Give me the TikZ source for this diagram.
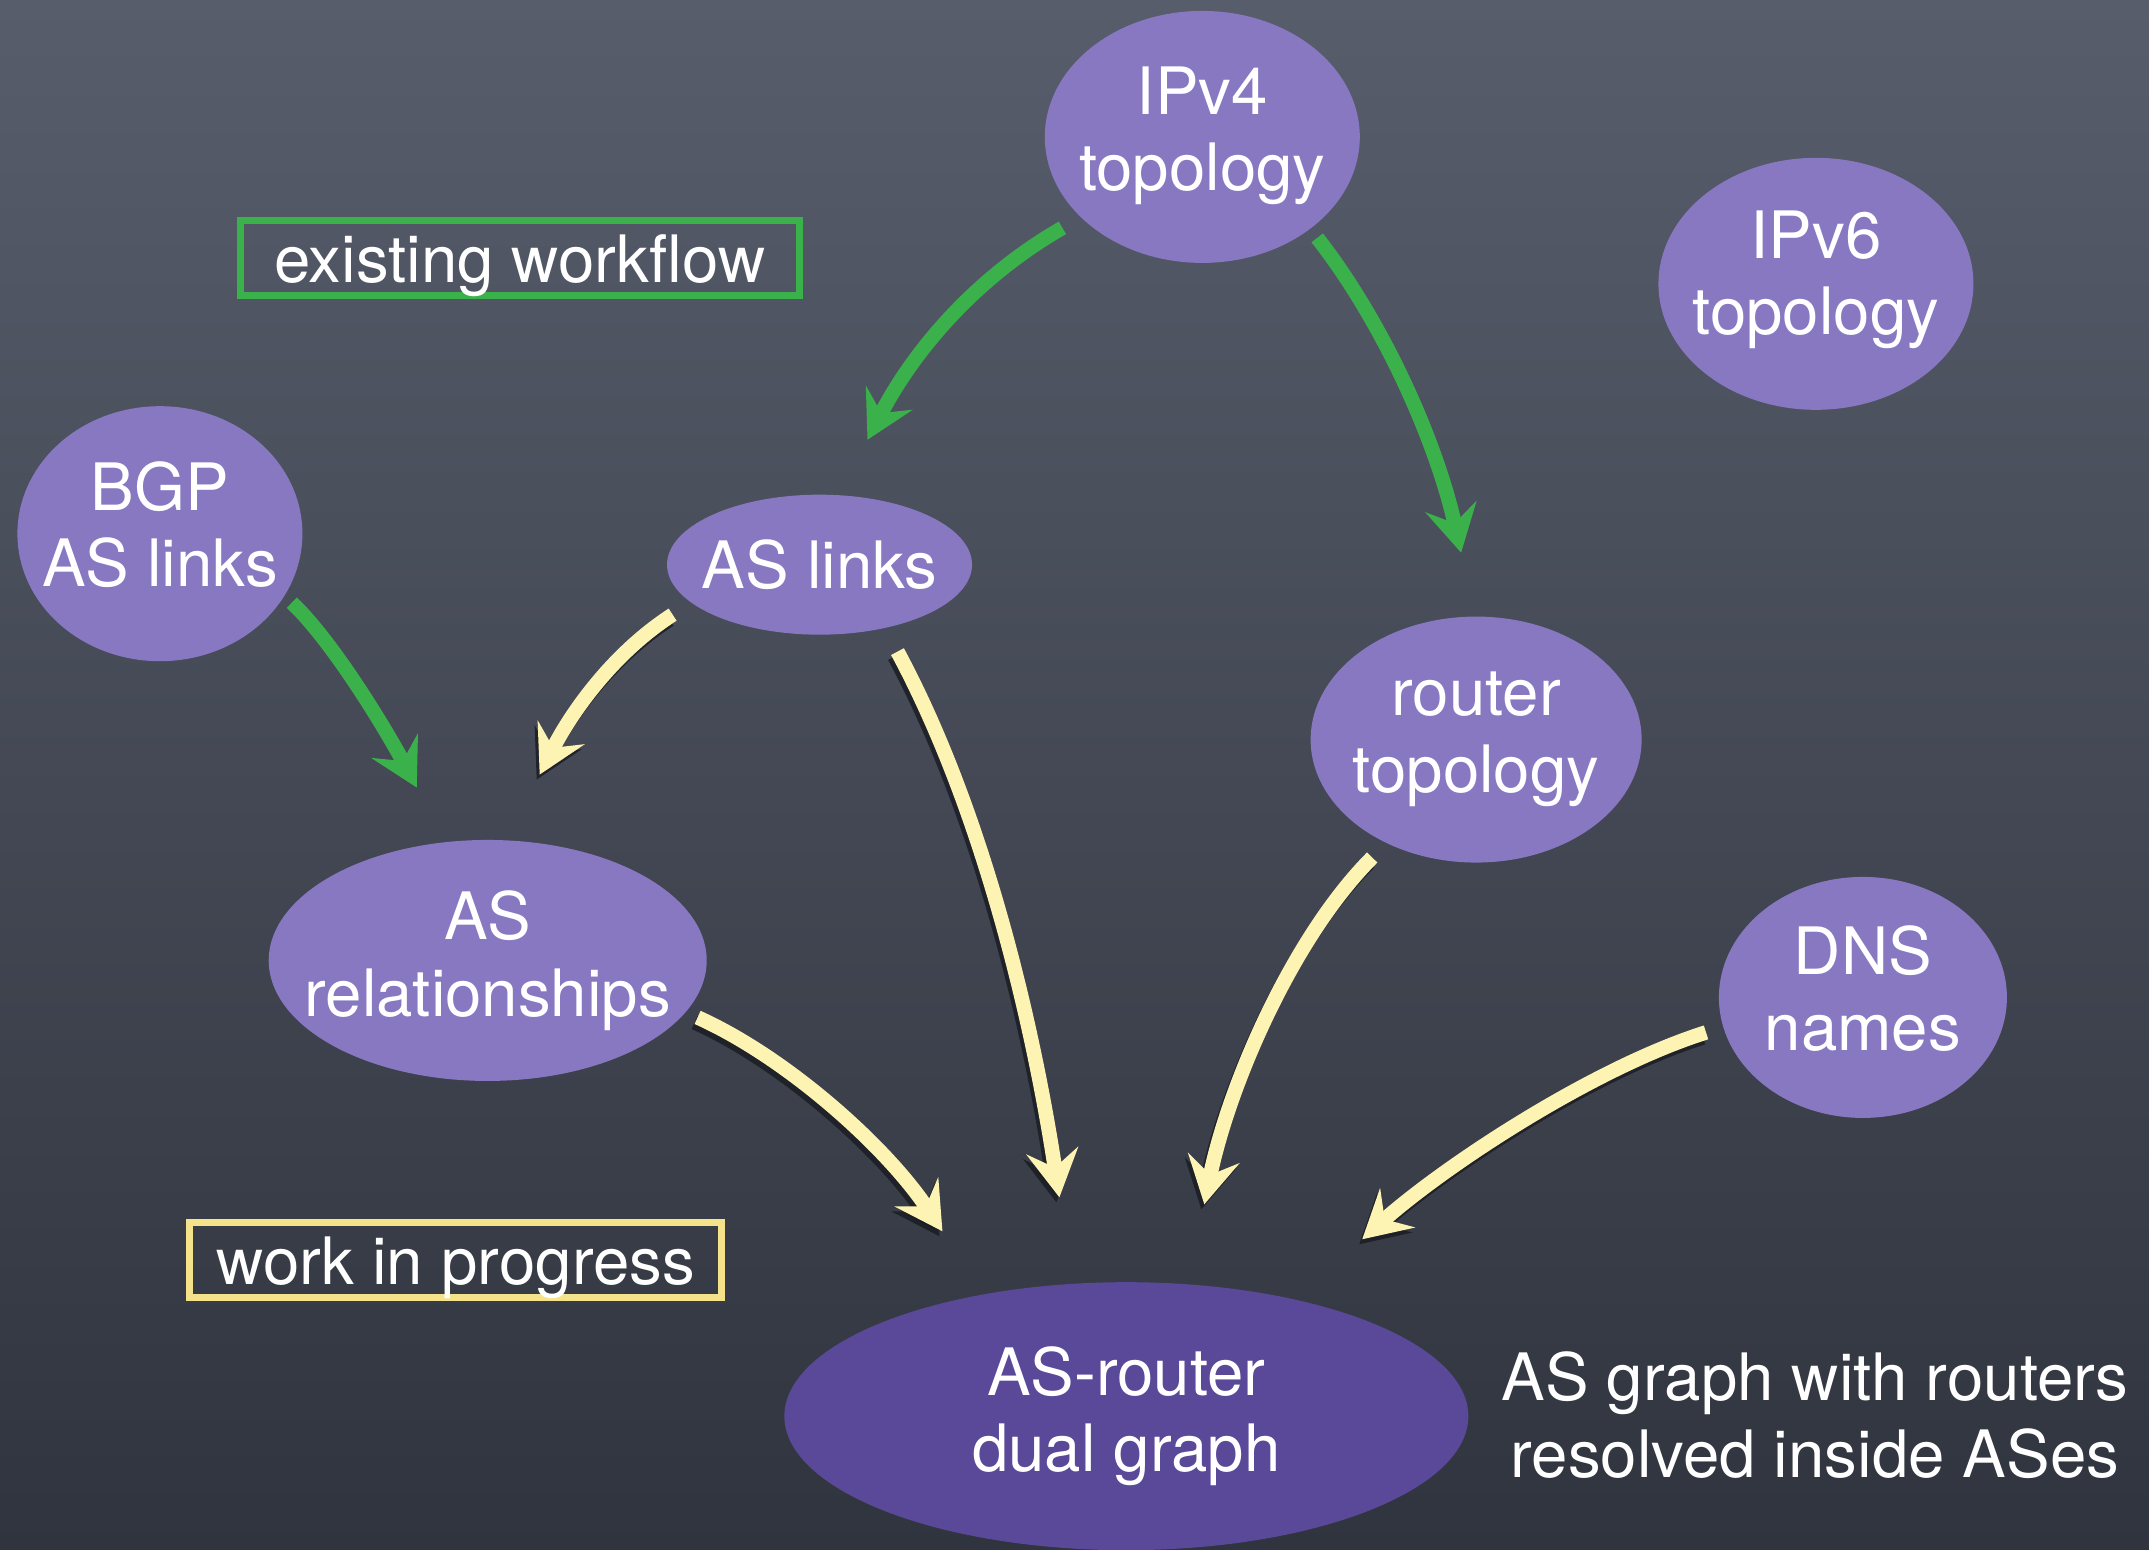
\documentclass[tikz,border=0pt]{standalone}
\usepackage{fontspec}
\setmainfont{TeX Gyre Heros}
\usetikzlibrary{shapes.geometric,arrows.meta}
\definecolor{bgtop}{HTML}{575D6B}
\definecolor{bgbot}{HTML}{30343E}
\definecolor{bubblefill}{HTML}{8878C2}
\definecolor{bubbledark}{HTML}{5A4899}
\definecolor{chalkgreen}{HTML}{3BB14B}
\definecolor{chalkyellow}{HTML}{FDF4B3}
\definecolor{boxyellow}{HTML}{F4E38A}
\definecolor{shadowc}{HTML}{1B1D24}
\newcommand\chalkarrow[4]{%
  \draw[yshadow] (#1) .. controls #2 and #3 .. (#4);
  \draw[yellowarrow] (#1) .. controls #2 and #3 .. (#4);}
\begin{document}
\begin{tikzpicture}[x=0.01cm,y=-0.01cm,
  bubble/.style={ellipse, fill=bubblefill, draw=none, inner sep=0pt},
  txt/.style={text=white, align=center, font=\fontsize{18.6pt}{21.8pt}\selectfont, inner sep=0pt},
  legendbox/.style={txt, line width=0.07cm, minimum height=0.75cm},
  tipshape/.style={-{Stealth[length=0.47cm,width=0.52cm,inset=0.17cm]}},
  greenarrow/.style={draw=chalkgreen, line width=0.145cm, tipshape},
  yellowarrow/.style={draw=chalkyellow, line width=0.145cm, tipshape},
  yshadow/.style={draw=shadowc, line width=0.145cm, tipshape, opacity=0.85,
    transform canvas={shift={(-0.03cm,-0.05cm)}}}]
\shade[top color=bgtop, bottom color=bgbot] (0cm,0cm) rectangle (21.49cm,-15.5cm);
\useasboundingbox (0,0) rectangle (2149,1550);

% nodes
\path (1203,137) node[bubble, minimum width=3.15cm, minimum height=2.52cm] (ipv4) {}
      node[txt, yshift=0.01cm] {IPv4\\topology};
\path (1817,284) node[bubble, minimum width=3.15cm, minimum height=2.52cm] (ipv6) {}
      node[txt, yshift=0.04cm] {IPv6\\topology};
\path (160,534) node[bubble, minimum width=2.85cm, minimum height=2.55cm] (bgp) {}
      node[txt, yshift=0.09cm] {BGP\\AS links};
\path (820,565) node[bubble, minimum width=3.05cm, minimum height=1.40cm] (aslinks) {}
      node[txt] {AS links};
\path (1477,740) node[bubble, minimum width=3.31cm, minimum height=2.46cm] (router) {}
      node[txt] {router\\topology};
\path (488,961) node[bubble, minimum width=4.38cm, minimum height=2.41cm] (asrel) {}
      node[txt] {AS\\relationships};
\path (1864,998) node[bubble, minimum width=2.88cm, minimum height=2.41cm] (dns) {}
      node[txt, yshift=0.09cm] {DNS\\names};
\path (1127,1417) node[bubble, fill=bubbledark, minimum width=6.84cm, minimum height=2.68cm] (dual) {}
      node[txt] {AS-router\\dual graph};

\node[legendbox, draw=chalkgreen, minimum width=5.59cm] (existing) at (520,258) {};
\node[txt] at (520,266) {existing workflow};
\node[legendbox, draw=boxyellow, minimum width=5.32cm] (wip) at (456,1261) {};
\node[txt] at (456,1269) {work in progress};
\node[txt] (note) at (1816,1416) {AS graph with routers\\resolved inside ASes};

% arrow end points
\coordinate (g1s) at (1063,228); \coordinate (g1e) at (868,440);
\coordinate (g2s) at (1318,238); \coordinate (g2e) at (1462,553);
\coordinate (g3s) at (292,603);  \coordinate (g3e) at (417,788);
\coordinate (y1s) at (673,615);  \coordinate (y1e) at (540,775);
\coordinate (y2s) at (898,652);  \coordinate (y2e) at (1060,1198);
\coordinate (y3s) at (1373,858); \coordinate (y3e) at (1205,1205);
\coordinate (y4s) at (698,1018); \coordinate (y4e) at (943,1232);
\coordinate (y5s) at (1707,1033); \coordinate (y5e) at (1363,1240);

% green arrows (existing workflow)
\draw[greenarrow] (g1s) .. controls (976,278) and (914,351) .. (g1e);
\draw[greenarrow] (g2s) .. controls (1386,325) and (1438,445) .. (g2e);
\draw[greenarrow] (g3s) .. controls (335,644) and (389,735) .. (g3e);

% yellow arrows (work in progress)
\chalkarrow{y1s}{(614,653)}{(572,712)}{y1e}
\chalkarrow{y2s}{(983,810)}{(1033,1020)}{y2e}
\chalkarrow{y3s}{(1293,938)}{(1229,1087)}{y3e}
\chalkarrow{y4s}{(789,1059)}{(888,1149)}{y4e}
\chalkarrow{y5s}{(1593,1069)}{(1445,1167)}{y5e}
\end{tikzpicture}
\end{document}
